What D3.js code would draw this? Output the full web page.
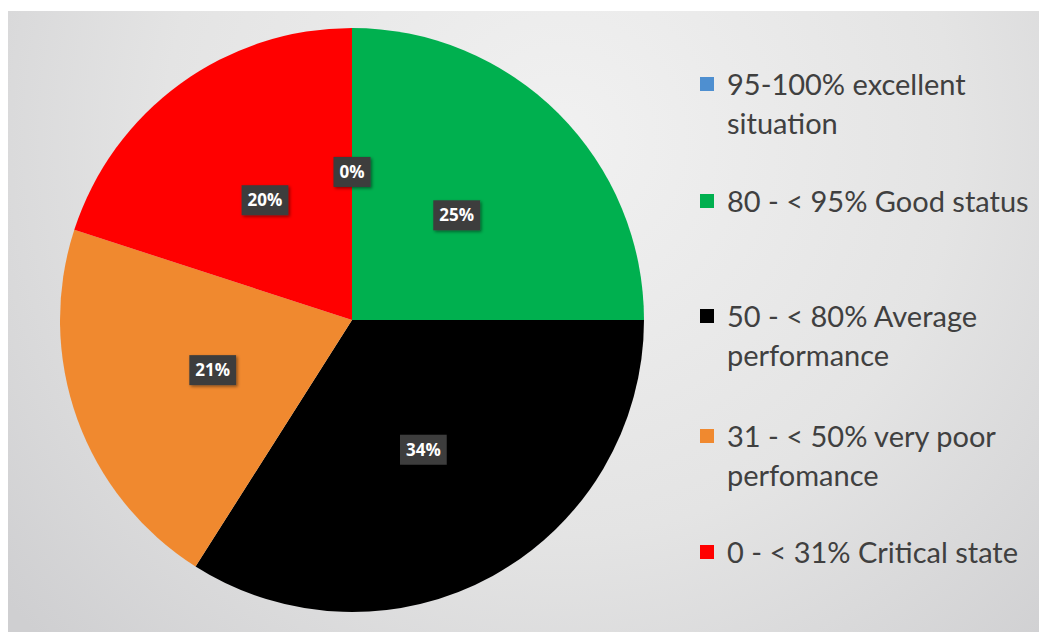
<!DOCTYPE html>
<html>
<head>
<meta charset="utf-8">
<script src="https://cdn.jsdelivr.net/npm/d3@7/dist/d3.min.js"></script>
<style>
  html, body { margin: 0; padding: 0; background: #ffffff; }
  svg { display: block; }
</style>
</head>
<body>
<svg id="chart" width="1039" height="632"></svg>
<script>
// ---- data ----
const categories = [
  ["95-100% excellent", "situation"],
  ["80 - < 95% Good status"],
  ["50 - < 80% Average", "performance"],
  ["31 - < 50% very poor", "perfomance"],
  ["0 - < 31% Critical state"]
];
const values = [0, 25, 34, 21, 20];
const colors = ["#4e8fd0", "#00b04f", "#000000", "#f0892f", "#ff0000"];

// ---- layout ----
const W = 1039, H = 632;
const cx = 352, cy = 320, R = 292;
const svg = d3.select("#chart");

const defs = svg.append("defs");
const grad = defs.append("radialGradient")
  .attr("id", "bg").attr("gradientUnits", "userSpaceOnUse")
  .attr("cx", 560).attr("cy", 140).attr("r", 720);
grad.append("stop").attr("offset", "0%").attr("stop-color", "#f1f1f1");
grad.append("stop").attr("offset", "55%").attr("stop-color", "#e4e4e4");
grad.append("stop").attr("offset", "100%").attr("stop-color", "#cfcfd1");

const shadow = defs.append("filter").attr("id", "sh")
  .attr("x", "-30%").attr("y", "-30%").attr("width", "160%").attr("height", "160%");
shadow.append("feDropShadow").attr("dx", 1.5).attr("dy", 1.5)
  .attr("stdDeviation", 1.5).attr("flood-color", "#000").attr("flood-opacity", 0.45);

svg.append("rect").attr("x", 8).attr("y", 11)
  .attr("width", W - 8).attr("height", H - 11)
  .attr("fill", "url(#bg)");

const pie = d3.pie().sort(null).value(d => d);
const arcs = pie(values);
const arc = d3.arc().innerRadius(0).outerRadius(R);
const labelArc = d3.arc().innerRadius(R * 0.507).outerRadius(R * 0.507);

const g = svg.append("g").attr("transform", `translate(${cx},${cy})`);
g.selectAll("path.slice").data(arcs).join("path")
  .attr("class", "slice")
  .attr("d", arc)
  .attr("fill", (d, i) => colors[i]);

// labels
const total = d3.sum(values);
const lbl = g.selectAll("g.lbl").data(arcs).join("g")
  .attr("class", "lbl")
  .attr("transform", d => `translate(${labelArc.centroid(d)})`);
lbl.each(function(d) {
  const sel = d3.select(this);
  const t = sel.append("text")
    .attr("text-anchor", "middle")
    .attr("dy", "0.36em")
    .attr("font-family", "'Open Sans', 'Noto Sans', sans-serif")
    .attr("font-weight", "bold")
    .attr("font-size", 17)
    .attr("fill", "#ffffff")
    .text(Math.round(d.data / total * 100) + "%");
  const w = t.node().getComputedTextLength() + 12;
  sel.insert("rect", "text")
    .attr("x", -w / 2).attr("y", -15)
    .attr("width", w).attr("height", 30)
    .attr("fill", "#3c3c3c")
    .attr("filter", "url(#sh)");
});

// legend
const legendBaselines = [95, 212, 327, 447, 563];
const lineGap = 39;
const legend = svg.append("g");
categories.forEach((lines, i) => {
  const y = legendBaselines[i];
  legend.append("rect")
    .attr("x", 700).attr("y", y - 18)
    .attr("width", 14).attr("height", 14)
    .attr("fill", colors[i]);
  const t = legend.append("text")
    .attr("x", 727).attr("y", y)
    .attr("font-family", "Lato, 'Open Sans', sans-serif")
    .attr("font-size", 29)
    .attr("fill", "#404040");
  lines.forEach((ln, j) => {
    t.append("tspan").attr("x", 727).attr("y", y + j * lineGap).text(ln);
  });
});
</script>
</body>
</html>
